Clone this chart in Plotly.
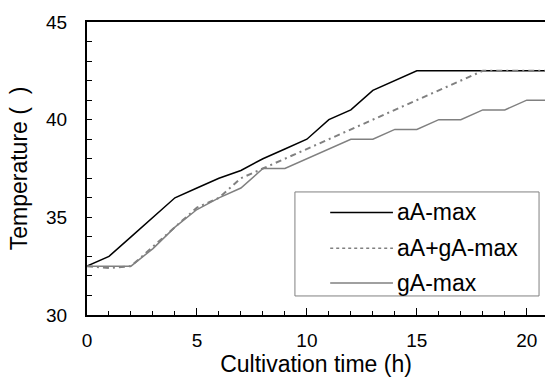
import plotly.graph_objects as go

hours = list(range(0, 22))
aA_max = [32.5, 33.0, 34.0, 35.0, 36.0, 36.5, 37.0, 37.4, 38.0, 38.5, 39.0,
          40.0, 40.5, 41.5, 42.0, 42.5, 42.5, 42.5, 42.5, 42.5, 42.5, 42.5]
aA_gA_max = [32.5, 32.4, 32.5, 33.5, 34.5, 35.5, 36.0, 37.0, 37.5, 38.0, 38.5,
             39.0, 39.5, 40.0, 40.5, 41.0, 41.5, 42.0, 42.5, 42.5, 42.5, 42.5]
gA_max = [32.5, 32.5, 32.5, 33.4, 34.5, 35.4, 36.0, 36.5, 37.5, 37.5, 38.0,
          38.5, 39.0, 39.0, 39.5, 39.5, 40.0, 40.0, 40.5, 40.5, 41.0, 41.0]
series_names = ["aA-max", "aA+gA-max", "gA-max"]

FONT = "Liberation Sans, Arial, sans-serif"
FS = 19
FS_LEG = 23

styles = [dict(color="black", width=1.5),
          dict(color="#808080", width=2, dash="6px,4px,2px,4px"),
          dict(color="#808080", width=1.5)]
legend_styles = [dict(color="black", width=1.5),
                 dict(color="#808080", width=1.5, dash="3px,3px"),
                 dict(color="#808080", width=1.5)]

fig = go.Figure()
for name, ys, st in zip(series_names, [aA_max, aA_gA_max, gA_max], styles):
    fig.add_trace(go.Scatter(x=hours, y=ys, mode="lines", name=name,
                             line=st, showlegend=False))

# custom legend box (paper coordinates of the plot area)
fig.add_shape(type="rect", xref="paper", yref="paper",
              x0=0.454, x1=0.987, y0=0.065, y1=0.42,
              line=dict(color="#808080", width=1), fillcolor="white", layer="above")
row_y = [0.35, 0.228, 0.109]
for name, ly, st in zip(series_names, row_y, legend_styles):
    fig.add_shape(type="line", xref="paper", yref="paper",
                  x0=0.531, x1=0.668, y0=ly, y1=ly, line=st, layer="above")
    fig.add_annotation(xref="paper", yref="paper", x=0.672, y=ly,
                       text=name, showarrow=False, xanchor="left", yanchor="middle",
                       font=dict(family=FONT, size=FS_LEG, color="black"))

fig.update_layout(
    width=545, height=389,
    margin=dict(l=87, r=0, t=22, b=74),
    paper_bgcolor="white", plot_bgcolor="white",
    font=dict(family=FONT, size=FS, color="black"),
    showlegend=False,
    xaxis=dict(range=[0, 20.83], tickvals=[0, 5, 10, 15, 20],
               ticks="inside", ticklen=7, tickwidth=1, tickcolor="black",
               minor=dict(dtick=1, ticks="inside", ticklen=4, tickcolor="black"),
               showline=True, linecolor="black", linewidth=2, mirror=True,
               showgrid=False, zeroline=False, automargin=False,
               title=dict(text="Cultivation time (h)", standoff=4),
               ticklabelstandoff=7),
    yaxis=dict(range=[30, 45], tickvals=[30, 35, 40, 45],
               ticks="inside", ticklen=5, tickwidth=1, tickcolor="black",
               minor=dict(dtick=1, ticks="inside", ticklen=5, tickcolor="black"),
               showline=True, linecolor="black", linewidth=2, mirror=True,
               showgrid=False, zeroline=False, automargin=False,
               title=dict(text="Temperature (  )", standoff=12),
               ticklabelstandoff=14),
)

fig.write_html("out.html", config={"displayModeBar": False},
               post_script="document.body.style.margin='0px';")
